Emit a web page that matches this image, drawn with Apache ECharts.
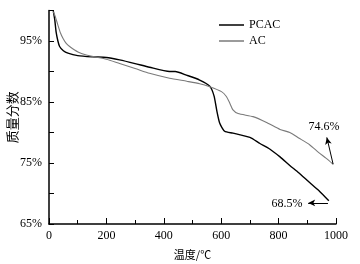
<!DOCTYPE html>
<html>
<head>
<meta charset="utf-8">
<script src="https://cdn.jsdelivr.net/npm/echarts@6/dist/echarts.min.js"></script>
<style>
  html, body { margin: 0; padding: 0; background: #fff; }
  #chart { width: 360px; height: 264px; }
</style>
</head>
<body>
<div id="chart"></div>
<script>
// temperature (°C) / mass fraction (%)
const pcac = [
  [15, 99.9], [20, 98.5], [25, 96.4], [31, 95.0], [37, 94.1], [50, 93.4], [66, 93.0],
  [100, 92.6], [150, 92.4], [200, 92.3], [246, 91.9], [300, 91.3], [350, 90.7],
  [420, 90.0], [440, 90.0], [479, 89.4], [525, 88.6], [560, 87.6], [575, 86.0],
  [585, 83.5], [595, 81.5], [612, 80.2], [641, 79.9], [700, 79.2], [735, 78.2],
  [769, 77.3], [805, 76.0], [839, 74.6], [870, 73.4], [908, 71.8], [940, 70.5],
  [975, 68.8]
];
const ac = [
  [15, 99.8], [22, 99], [31, 97.6], [40, 96.3], [49, 95.4], [60, 94.6], [72, 94.1],
  [101, 93.2], [130, 92.7], [159, 92.4], [200, 92.0], [246, 91.3], [300, 90.5],
  [350, 89.7], [420, 88.9], [480, 88.4], [525, 88.0], [560, 87.5], [601, 86.7],
  [618, 85.9], [630, 84.8], [641, 83.7], [659, 83.1], [711, 82.6], [760, 81.6],
  [805, 80.5], [839, 80.0], [870, 79.1], [908, 78.0], [940, 76.7], [965, 75.8],
  [990, 74.8]
];
const seriesNames = ['PCAC', 'AC'];
const yLabels = [65, 75, 85, 95];

const serif = '"Liberation Serif", "Times New Roman", serif';
const cjk = '"Noto Sans CJK SC", sans-serif';

let myChart = echarts.init(document.getElementById('chart'));
myChart.setOption({
  animation: false,
  grid: { left: 49, right: 24, top: 10.5, bottom: 40, outerBoundsMode: 'none', containLabel: false },
  legend: {
    orient: 'vertical',
    left: 214,
    top: 14,
    itemWidth: 25,
    itemHeight: 1.5,
    itemGap: 4,
    icon: 'rect',
    data: seriesNames,
    textStyle: { fontFamily: serif, fontSize: 12, color: '#000' }
  },
  xAxis: {
    type: 'value',
    min: 0,
    max: 1000,
    interval: 200,
    name: '温度/℃',
    nameLocation: 'middle',
    nameGap: 25,
    nameMoveOverlap: false,
    nameTextStyle: { fontFamily: cjk, fontSize: 11, color: '#000' },
    axisLine: { lineStyle: { color: '#000', width: 1.5 } },
    axisTick: { inside: true, length: 6, lineStyle: { color: '#000', width: 1 } },
    minorTick: { show: true, splitNumber: 2, length: 4, lineStyle: { color: '#000', width: 1 } },
    axisLabel: { fontFamily: serif, fontSize: 12, color: '#000', margin: 6, formatter: v => String(v) },
    splitLine: { show: false }
  },
  yAxis: {
    type: 'value',
    min: 65,
    max: 100,
    interval: 5,
    name: '质量分数',
    nameLocation: 'middle',
    nameRotate: 90,
    nameGap: 30,
    nameMoveOverlap: false,
    nameTextStyle: { fontFamily: cjk, fontSize: 13, color: '#000' },
    axisLine: { show: true, lineStyle: { color: '#000', width: 1.5 } },
    axisTick: { show: true, inside: true, length: 5, lineStyle: { color: '#000', width: 1 } },
    axisLabel: {
      fontFamily: serif, fontSize: 12, color: '#000', margin: 7,
      formatter: v => yLabels.includes(v) ? v + '%' : ''
    },
    splitLine: { show: false }
  },
  series: [
    {
      name: seriesNames[0],
      type: 'line',
      data: pcac,
      smooth: 0.2,
      showSymbol: false,
      color: '#000',
      lineStyle: { color: '#000', width: 1.4 },
      markPoint: {
        symbol: 'circle',
        symbolSize: 0,
        label: { show: true, position: 'inside', fontFamily: serif, fontSize: 12, color: '#000', formatter: p => p.value },
        data: [{ coord: [829, 68.3], value: '68.5%' }]
      },
      markLine: {
        silent: true,
        symbol: ['none', 'arrow'],
        symbolSize: [5, 7],
        label: { show: false },
        lineStyle: { color: '#000', width: 1, type: 'solid' },
        data: [[{ coord: [972, 68.45] }, { coord: [903, 68.45] }]]
      }
    },
    {
      name: seriesNames[1],
      type: 'line',
      data: ac,
      smooth: 0.2,
      showSymbol: false,
      color: '#7a7a7a',
      lineStyle: { color: '#7a7a7a', width: 1.1 },
      markPoint: {
        symbol: 'circle',
        symbolSize: 0,
        label: { show: true, position: 'inside', fontFamily: serif, fontSize: 12, color: '#000', formatter: p => p.value },
        data: [{ coord: [958, 81.0], value: '74.6%' }]
      },
      markLine: {
        silent: true,
        symbol: ['none', 'arrow'],
        symbolSize: [5, 7],
        label: { show: false },
        lineStyle: { color: '#000', width: 1, type: 'solid' },
        data: [[{ coord: [990, 74.8] }, { coord: [968, 79.2] }]]
      }
    }
  ]
});
window.addEventListener('resize', myChart.resize);
</script>
</body>
</html>
